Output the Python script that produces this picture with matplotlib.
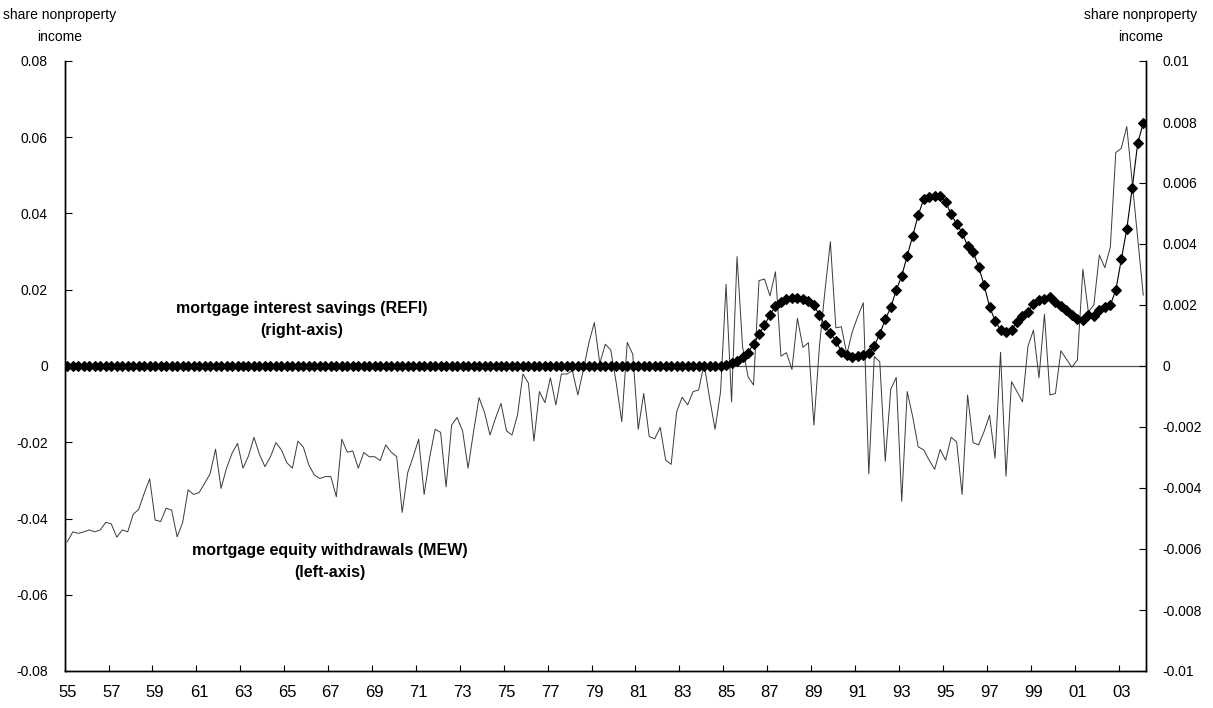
import matplotlib
matplotlib.use('Agg')
import matplotlib.pyplot as plt
import numpy as np

plt.rcParams['font.family'] = ['Liberation Sans', 'DejaVu Sans']
plt.rcParams['axes.unicode_minus'] = False

# ---------------- data (quarterly, 1955Q1 - 2004Q1) ----------------
year_labels = ['55', '57', '59', '61', '63', '65', '67', '69', '71', '73', '75', '77',
               '79', '81', '83', '85', '87', '89', '91', '93', '95', '97', '99', '01', '03']

# mortgage equity withdrawals (left axis)
mew = [
    -0.0461, -0.0435, -0.0439, -0.0435, -0.0430, -0.0435, -0.0430, -0.0410, -0.0414, -0.0449,
    -0.0430, -0.0435, -0.0389, -0.0376, -0.0334, -0.0296, -0.0404, -0.0408, -0.0373, -0.0378,
    -0.0448, -0.0411, -0.0325, -0.0337, -0.0332, -0.0308, -0.0283, -0.0218, -0.0321, -0.0268,
    -0.0229, -0.0203, -0.0268, -0.0236, -0.0187, -0.0232, -0.0264, -0.0238, -0.0201, -0.0220,
    -0.0254, -0.0268, -0.0197, -0.0213, -0.0260, -0.0286, -0.0295, -0.0290, -0.0290, -0.0343,
    -0.0192, -0.0226, -0.0223, -0.0268, -0.0227, -0.0238, -0.0238, -0.0248, -0.0207, -0.0226,
    -0.0238, -0.0384, -0.0280, -0.0238, -0.0192, -0.0337, -0.0240, -0.0166, -0.0174, -0.0317,
    -0.0155, -0.0135, -0.0170, -0.0268, -0.0172, -0.0083, -0.0122, -0.0181, -0.0137, -0.0098,
    -0.0170, -0.0181, -0.0129, -0.0021, -0.0045, -0.0197, -0.0067, -0.0096, -0.0031, -0.0102,
    -0.0021, -0.0021, -0.0012, -0.0076, -0.0010, 0.0060, 0.0114, 0.0007, 0.0057, 0.0042,
    -0.0045, -0.0146, 0.0062, 0.0031, -0.0166, -0.0072, -0.0185, -0.0191, -0.0161, -0.0247,
    -0.0258, -0.0120, -0.0082, -0.0102, -0.0067, -0.0063, 0.0005, -0.0085, -0.0166, -0.0067,
    0.0214, -0.0094, 0.0287, 0.0051, -0.0028, -0.0050, 0.0224, 0.0228, 0.0184, 0.0247,
    0.0026, 0.0035, -0.0009, 0.0125, 0.0049, 0.0061, -0.0155, 0.0050, 0.0195, 0.0326,
    0.0100, 0.0103, 0.0031, 0.0090, 0.0130, 0.0166, -0.0283, 0.0025, 0.0011, -0.0250,
    -0.0061, -0.0030, -0.0355, -0.0067, -0.0133, -0.0212, -0.0220, -0.0247, -0.0271, -0.0219,
    -0.0247, -0.0187, -0.0199, -0.0337, -0.0076, -0.0201, -0.0207, -0.0172, -0.0129, -0.0242,
    0.0036, -0.0289, -0.0041, -0.0067, -0.0094, 0.0052, 0.0094, -0.0031, 0.0136, -0.0076,
    -0.0072, 0.0040, 0.0018, -0.0003, 0.0016, 0.0254, 0.0142, 0.0160, 0.0291, 0.0258,
    0.0312, 0.0560, 0.0571, 0.0628, 0.0480, 0.0330, 0.0186,
]

# mortgage interest savings (right axis): zero through 1984Q4
refi = [0.0] * 120 + [
    0.00003, 0.00010, 0.00017, 0.00028, 0.00044, 0.00072, 0.00104, 0.00134, 0.00167, 0.00197,
    0.00211, 0.00219, 0.00222, 0.00224, 0.00220, 0.00214, 0.00200, 0.00167, 0.00134, 0.00107,
    0.00083, 0.00047, 0.00036, 0.00029, 0.00033, 0.00036, 0.00044, 0.00066, 0.00105, 0.00153,
    0.00192, 0.00249, 0.00295, 0.00362, 0.00426, 0.00495, 0.00547, 0.00555, 0.00557, 0.00558,
    0.00539, 0.00497, 0.00466, 0.00437, 0.00394, 0.00375, 0.00326, 0.00266, 0.00194, 0.00149,
    0.00118, 0.00112, 0.00118, 0.00145, 0.00164, 0.00178, 0.00203, 0.00216, 0.00220, 0.00225,
    0.00211, 0.00198, 0.00184, 0.00167, 0.00153, 0.00151, 0.00167, 0.00164, 0.00184, 0.00192,
    0.00200, 0.00249, 0.00350, 0.00449, 0.00585, 0.00732, 0.00796,
]

left_ticks = [-0.08, -0.06, -0.04, -0.02, 0.0, 0.02, 0.04, 0.06, 0.08]
left_labels = ['-0.08', '-0.06', '-0.04', '-0.02', '0', '0.02', '0.04', '0.06', '0.08']
right_ticks = [-0.01, -0.008, -0.006, -0.004, -0.002, 0.0, 0.002, 0.004, 0.006, 0.008, 0.01]
right_labels = ['-0.01', '-0.008', '-0.006', '-0.004', '-0.002', '0',
                '0.002', '0.004', '0.006', '0.008', '0.01']

# ---------------- figure ----------------
W, H = 1213, 708
fig = plt.figure(figsize=(W / 100, H / 100), dpi=100)
L, R, T, B = 64.6, 1146, 61, 671
ax = fig.add_axes([L / W, 1 - B / H, (R - L) / W, (B - T) / H])

n = len(mew)
x = np.arange(n)

ax.axhline(0, color='#555555', lw=0.9, zorder=1)
ax.plot(x, mew, color='#3a3a3a', lw=0.7, zorder=2)
ax.set_xlim(-0.5, n - 0.5)
ax.set_ylim(-0.08, 0.08)

ax2 = ax.twinx()
ax2.plot(x, refi, color='black', lw=0.8, marker='D', ms=4.8, mew=0.8,
         mfc='black', mec='black', zorder=3)
ax2.set_ylim(-0.01, 0.01)

for a in (ax, ax2):
    a.spines['top'].set_visible(False)
    for s in ('left', 'right', 'bottom'):
        a.spines[s].set_linewidth(1.0)
        a.spines[s].set_color('black')

# y ticks
ax.set_yticks(left_ticks)
ax.set_yticklabels(left_labels)
ax.tick_params(axis='y', direction='in', length=5, width=0.8, pad=12,
               labelsize=10, colors='black')
ax2.set_yticks(right_ticks)
ax2.set_yticklabels(right_labels)
ax2.tick_params(axis='y', direction='in', length=5, width=0.8, pad=12,
                labelsize=10, colors='black')

# x ticks: marks on category boundaries, labels on categories
label_pos = np.arange(0, n, 8)[:len(year_labels)]
ax.set_xticks(label_pos - 0.5)
ax.set_xticks(label_pos, minor=True)
ax.set_xticklabels([''] * len(label_pos))
ax.set_xticklabels(year_labels, minor=True)
ax.tick_params(axis='x', which='major', direction='in', length=4, width=0.8)
ax.tick_params(axis='x', which='minor', length=0, pad=10, labelsize=12)

# header labels
fig.text(60 / W, 1 - 15 / H, 'share nonproperty', ha='center', va='center', fontsize=10)
fig.text(60 / W, 1 - 37 / H, 'income', ha='center', va='center', fontsize=10)
fig.text(1141 / W, 1 - 15 / H, 'share nonproperty', ha='center', va='center', fontsize=10)
fig.text(1141 / W, 1 - 37 / H, 'income', ha='center', va='center', fontsize=10)

# series annotations
fig.text(302 / W, 1 - 308 / H, 'mortgage interest savings (REFI)', ha='center',
         va='center', fontsize=11.5, fontweight='bold')
fig.text(302 / W, 1 - 331 / H, '(right-axis)', ha='center', va='center',
         fontsize=11.5, fontweight='bold')
fig.text(330 / W, 1 - 550 / H, 'mortgage equity withdrawals (MEW)', ha='center',
         va='center', fontsize=11.5, fontweight='bold')
fig.text(330 / W, 1 - 572 / H, '(left-axis)', ha='center', va='center',
         fontsize=11.5, fontweight='bold')

fig.savefig('out.png', dpi=100)
